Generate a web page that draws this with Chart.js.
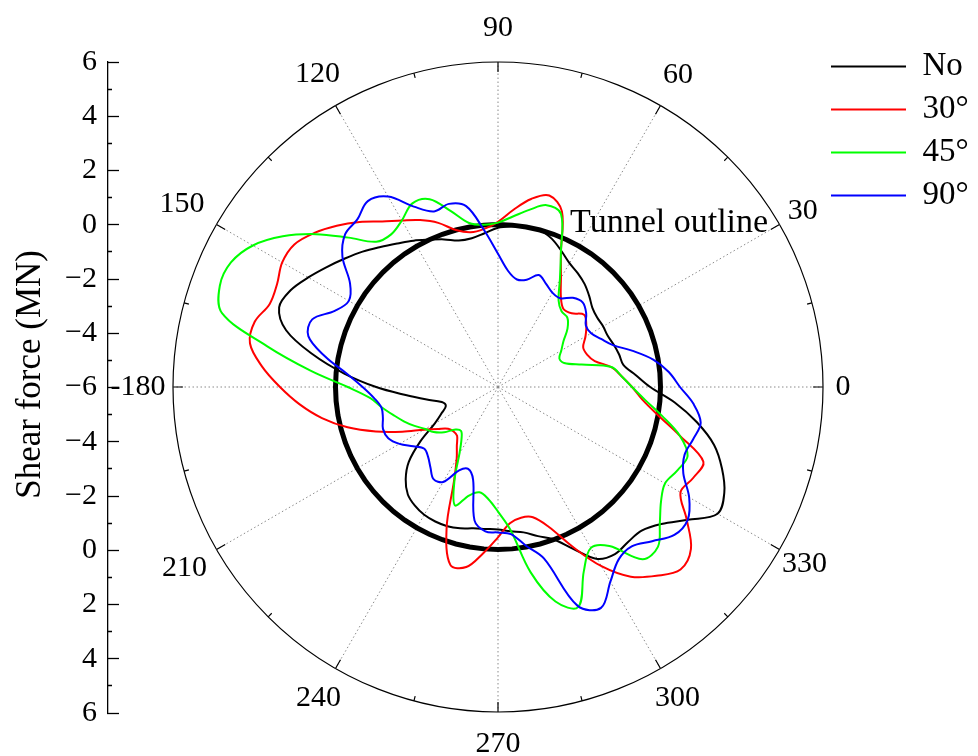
<!DOCTYPE html>
<html>
<head>
<meta charset="utf-8">
<title>Shear force around the tunnel lining</title>
<script src="https://cdn.jsdelivr.net/npm/chart.js@4/dist/chart.umd.min.js"></script>
<style>
  html, body { margin: 0; padding: 0; background: #ffffff; }
  canvas { display: block; }
</style>
</head>
<body>
<canvas id="chart" width="978" height="756"></canvas>
<script>
// Polar angle of every sample, in degrees counter-clockwise from the right-hand horizontal.
const angles = [
  0, 5, 10, 15, 20, 25, 30, 35, 40, 45, 50, 55,
  60, 65, 70, 75, 80, 85, 90, 95, 100, 105, 110, 115,
  120, 125, 130, 135, 140, 145, 150, 155, 160, 165, 170, 175,
  180, 185, 190, 195, 200, 205, 210, 215, 220, 225, 230, 235,
  240, 245, 250, 255, 260, 265, 270, 275, 280, 285, 290, 295,
  300, 305, 310, 315, 320, 325, 330, 335, 340, 345, 350, 355
];

// Shear force (MN) around the lining, one value per angle above.
const shearNo = [
  -0.38, -0.90, -1.30, -1.37, -1.45, -1.53, -1.52, -1.53, -1.45, -1.24, -1.03, -0.87,
  -0.72, -0.46, -0.18, 0.00, 0.00, -0.05, -0.12, -0.30, -0.42, -0.40, -0.20, 0.00,
  0.24, 0.47, 0.75, 1.07, 1.38, 1.72, 2.09, 2.45, 2.60, 2.10, 0.95, -0.30,
  -1.50, -2.58, -3.33, -3.85, -3.95, -3.70, -3.30, -2.50, -1.70, -1.18, -0.82, -0.65,
  -0.55, -0.52, -0.53, -0.60, -0.70, -0.74, -0.74, -0.65, -0.55, -0.30, -0.02, 0.60,
  1.33, 1.53, 1.47, 1.50, 1.87, 2.55, 3.36, 3.22, 2.80, 2.26, 1.45, 0.55
];
const shear30 = [
  -1.05, -1.42, -1.75, -2.30, -2.50, -2.53, -2.27, -2.02, -1.85, -2.15, -2.24, -1.95,
  -1.35, -0.50, 0.90, 1.32, 1.05, 0.57, 0.10, -0.14, -0.20, 0.00, 0.45, 0.80,
  1.10, 1.46, 1.95, 2.42, 2.85, 3.18, 3.20, 3.00, 2.97, 3.30, 3.30, 2.75,
  2.05, 1.35, 0.60, -0.25, -1.20, -2.10, -2.85, -3.30, -3.60, -3.68, -3.65, -3.35,
  -2.95, -2.15, -0.45, 0.80, 0.75, 0.15, -0.45, -0.95, -1.10, -1.02, -0.50, 0.50,
  1.64, 2.55, 3.10, 3.53, 3.30, 2.50, 1.78, 1.95, 2.07, 0.95, 0.00, -0.65
];
const shear45 = [
  -1.05, -1.42, -1.75, -2.80, -3.40, -3.50, -3.30, -3.05, -2.65, -2.38, -2.35, -2.10,
  -1.43, -0.50, 0.80, 0.95, 0.64, 0.32, 0.07, 0.01, 0.15, 0.72, 1.38, 1.48,
  1.10, 0.88, 1.00, 1.80, 2.78, 3.70, 4.45, 4.88, 4.93, 4.55, 2.65, 0.95,
  -0.45, -1.27, -1.65, -2.00, -2.30, -2.60, -2.90, -3.10, -3.40, -3.78, -3.88, -3.65,
  -3.15, -2.20, -1.35, -1.85, -2.05, -1.85, -1.40, -0.70, 0.95, 2.20, 2.65, 1.50,
  0.86, 1.17, 2.30, 2.35, 1.80, 1.35, 1.12, 1.30, 1.45, 0.95, 0.15, -0.55
];
const shear90 = [
  0.72, 0.33, -0.18, -0.85, -1.48, -1.80, -2.03, -2.04, -1.75, -1.58, -1.70, -2.00,
  -1.98, -1.80, -1.60, -1.90, -1.97, -1.70, -1.08, -0.20, 0.78, 1.00, 0.90, 1.35,
  2.12, 2.38, 2.08, 1.98, 1.50, 0.67, 0.36, 0.65, 1.30, 1.25, 0.48, -0.40,
  -1.00, -1.40, -1.63, -1.60, -1.48, -1.53, -1.80, -2.18, -2.45, -2.35, -2.12, -1.85,
  -1.95, -2.60, -2.78, -2.45, -1.00, -0.65, -0.63, -0.55, -0.05, 0.55, 2.60, 3.00,
  2.30, 1.77, 1.68, 2.05, 2.50, 2.55, 2.15, 1.55, 1.33, 1.46, 1.60, 1.25
];
// The tunnel lining itself sits on the zero-shear ring.
const tunnelOutline = [
  0, 0, 0, 0, 0, 0, 0, 0, 0, 0, 0, 0,
  0, 0, 0, 0, 0, 0, 0, 0, 0, 0, 0, 0,
  0, 0, 0, 0, 0, 0, 0, 0, 0, 0, 0, 0,
  0, 0, 0, 0, 0, 0, 0, 0, 0, 0, 0, 0,
  0, 0, 0, 0, 0, 0, 0, 0, 0, 0, 0, 0,
  0, 0, 0, 0, 0, 0, 0, 0, 0, 0, 0, 0
];

const seriesNames = ['No', '30°', '45°', '90°'];
const seriesColors = ['#000000', '#ff0000', '#00ff00', '#0000ff'];
const tunnelName = 'Tunnel outline';

// Labelled angles around the ring and the text shown for each.
const angleTicks = [0, 30, 60, 90, 120, 150, 180, 210, 240, 270, 300, 330];
const angleTickText = ['0', '30', '60', '90', '120', '150', '-180', '210', '240', '270', '300', '330'];

// Left radial axis: it spans the full diameter, 6 MN at the top, -6 MN at the pole, 6 MN at the bottom.
const axisTickText = ['6', '4', '2', '0', '\u22122', '\u22124', '\u22126', '\u22124', '\u22122', '0', '2', '4', '6'];
const axisTitle = '   Shear force (MN)';

// ---------- layout constants ----------
const SERIF = "'Liberation Serif', 'Times New Roman', Times, serif";
const AXIS_RIGHT = 108;     // x of the left axis line
const RING_OFFSET = 65;     // gap between the left axis line and the outer ring
const LABEL_GAP = { 0: 20, 30: 27, 60: 35, 90: 34, 120: 36, 150: 40, 180: 35, 210: 37, 240: 34, 270: 32, 300: 34, 330: 29 };
const TUNNEL_LABEL_AT = { angle: 65, value: 0.3 };

Chart.defaults.font.family = SERIF;
Chart.defaults.color = '#000000';

// The radar walks clockwise from its start angle, so feed it the samples in that order.
const N = angles.length;
const clockwise = angles.map((_, i) => (N - i) % N);
const radarLabels = clockwise.map(k => angles[k]);
const toRadar = series => clockwise.map(k => series[k]);

function placeRing(scale) {
  scale.xCenter = Math.round(scale.left + RING_OFFSET + scale.drawingArea);
}

const curve = (i, data) => ({
  label: seriesNames[i],
  data: toRadar(data),
  borderColor: seriesColors[i],
  backgroundColor: seriesColors[i],
  borderWidth: 2,
  fill: false,
  pointRadius: 0,
  pointHoverRadius: 0,
  tension: 0.35,
  clip: false,
  order: 4 - i,
  rAxisID: 'r'
});

const angleLabels = {
  id: 'angleLabels',
  afterDraw(chart) {
    const r = chart.scales.r;
    const ctx = chart.ctx;
    ctx.save();
    ctx.font = '30px ' + SERIF;
    ctx.fillStyle = '#000000';
    ctx.textAlign = 'center';
    ctx.textBaseline = 'middle';
    angleTicks.forEach((a, k) => {
      const i = chart.data.labels.indexOf(a);
      const p = r.getPointPosition(i, r.drawingArea + LABEL_GAP[a]);
      ctx.fillText(angleTickText[k], p.x, p.y);
    });
    ctx.restore();
  }
};

const tunnelLabel = {
  id: 'tunnelLabel',
  afterDatasetsDraw(chart) {
    const r = chart.scales.r;
    const i = chart.data.labels.indexOf(TUNNEL_LABEL_AT.angle);
    const p = r.getPointPosition(i, r.getDistanceFromCenterForValue(TUNNEL_LABEL_AT.value));
    const ctx = chart.ctx;
    ctx.save();
    ctx.font = '34px ' + SERIF;
    ctx.fillStyle = '#000000';
    ctx.textAlign = 'left';
    ctx.textBaseline = 'alphabetic';
    ctx.fillText(tunnelName, p.x, p.y);
    ctx.restore();
  }
};

new Chart(document.getElementById('chart'), {
  type: 'radar',
  data: {
    labels: radarLabels,
    datasets: [
      curve(0, shearNo),
      curve(1, shear30),
      curve(2, shear45),
      curve(3, shear90),
      {
        label: tunnelName,
        data: toRadar(tunnelOutline),
        borderColor: '#000000',
        backgroundColor: '#000000',
        borderWidth: 5,
        fill: false,
        pointRadius: 0,
        pointHoverRadius: 0,
        tension: 0,
        clip: false,
        order: 9,
        rAxisID: 'r'
      }
    ]
  },
  options: {
    responsive: false,
    devicePixelRatio: 1,
    animation: false,
    events: [],
    layout: { padding: { top: 40, right: 0, bottom: 43, left: 0 } },
    scales: {
      r: {
        type: 'radialLinear',
        min: -6,
        max: 6,
        startAngle: 90,
        ticks: { display: false, stepSize: 12 },
        grid: {
          circular: true,
          lineWidth: 1.2,
          color: ctx => (ctx.tick && ctx.tick.value === 6 ? '#000000' : 'rgba(0,0,0,0)')
        },
        angleLines: {
          display: true,
          lineWidth: 1,
          borderDash: [1.5, 2.5],
          color: ctx => (radarLabels[ctx.index] % 30 === 0 ? '#8a8a8a' : 'rgba(0,0,0,0)')
        },
        pointLabels: { display: false },
        afterSetDimensions: placeRing
      },
      // Tick marks on the outer ring every 15 degrees, longer at the labelled angles.
      r2: {
        type: 'radialLinear',
        axis: 'r',
        min: -6,
        max: 6,
        startAngle: 90,
        ticks: { display: false },
        grid: { display: false },
        pointLabels: { display: false },
        angleLines: {
          display: true,
          lineWidth: 1.2,
          color: ctx => (radarLabels[ctx.index] % 15 === 0 ? '#000000' : 'rgba(0,0,0,0)'),
          borderDash: ctx => {
            const R = ctx.scale.drawingArea;
            const len = radarLabels[ctx.index] % 30 === 0 ? 10 : 5;
            return [0, R - len, len, R];
          }
        },
        afterSetDimensions: placeRing
      },
      y: {
        type: 'linear',
        position: 'left',
        min: -12,
        max: 12,
        afterFit: scale => { scale.width = AXIS_RIGHT; },
        border: { display: true, color: '#000000', width: 1.3 },
        grid: {
          drawOnChartArea: false,
          drawTicks: true,
          tickLength: -11,
          tickColor: '#000000',
          tickWidth: 1.3,
          tickBorderDash: ctx => (ctx.tick && Math.abs(ctx.tick.value) % 2 === 1 ? [0, 7, 4, 100] : [])
        },
        ticks: {
          stepSize: 1,
          autoSkip: false,
          padding: 22,
          color: '#000000',
          font: { family: SERIF, size: 30 },
          callback: v => (Math.abs(v) % 2 === 1 ? '' : axisTickText[(12 - v) / 2])
        },
        title: {
          display: true,
          text: axisTitle,
          color: '#000000',
          font: { family: SERIF, size: 35 },
          padding: { top: 10, bottom: 0 }
        }
      }
    },
    plugins: {
      title: { display: true, text: '', padding: 0, font: { size: 22, lineHeight: 1 } },
      tooltip: { enabled: false },
      legend: {
        position: 'right',
        align: 'start',
        maxWidth: 157,
        labels: {
          boxWidth: 75,
          boxHeight: 2,
          padding: 10,
          color: '#000000',
          font: { family: SERIF, size: 33 },
          filter: item => item.datasetIndex < seriesNames.length,
          sort: (a, b) => a.datasetIndex - b.datasetIndex,
          generateLabels: chart => Chart.defaults.plugins.legend.labels.generateLabels(chart).map(item => ({
            ...item,
            fillStyle: chart.data.datasets[item.datasetIndex].borderColor,
            lineWidth: 0
          }))
        }
      }
    }
  },
  plugins: [angleLabels, tunnelLabel]
});
</script>
</body>
</html>
